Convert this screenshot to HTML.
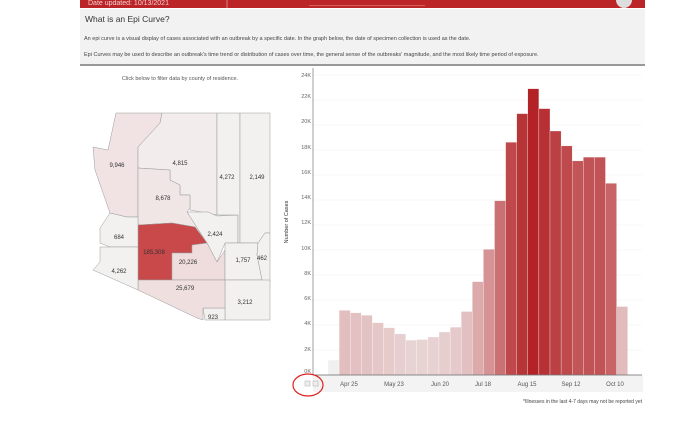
<!DOCTYPE html>
<html><head><meta charset="utf-8"><style>
html,body{margin:0;padding:0;background:#fff;width:700px;height:441px;overflow:hidden}
svg{display:block;font-family:"Liberation Sans",sans-serif}
</style></head><body>
<svg width="700" height="441" viewBox="0 0 700 441" xmlns="http://www.w3.org/2000/svg">
<rect x="80" y="0" width="565" height="8" fill="#bb2528"/>
<text x="88" y="5" font-size="7" fill="#f3d0d0">Date updated: 10/13/2021</text>
<line x1="227" y1="0" x2="227" y2="8" stroke="#f0c0c0" stroke-width="0.6"/>
<line x1="309" y1="5.5" x2="425" y2="5.5" stroke="#e07070" stroke-width="0.8"/>
<circle cx="624" cy="0" r="8" fill="#ddd"/>
<rect x="80" y="9" width="565" height="55" fill="#f2f2f2"/>
<rect x="80" y="64" width="565" height="2" fill="#999"/>
<text x="85" y="22" font-size="8.5" fill="#333">What is an Epi Curve?</text>
<text x="84" y="40" font-size="5.5" fill="#444">An epi curve is a visual display of cases associated with an outbreak by a specific date.  In  the graph below, the date of specimen collection is used as the date.</text>
<text x="84" y="56" font-size="5.5" fill="#444">Epi Curves may be used to describe an outbreak's time trend or distribution of cases over time, the general sense of the outbreaks' magnitude, and the most likely time period of exposure.</text>
<text x="180" y="80" font-size="5.5" fill="#555" text-anchor="middle">Click below to filter data by county of residence.</text>
<g stroke="#999" stroke-width="0.5">
<polygon points="93,147 108,150 116,113 162,113 160,123 138,147 138,217 127,217 110,213 95,170" fill="#f1e3e3"/>
<polygon points="138,147 160,123 162,113 217,113 217,215 190,210 190,195 180,195 180,185 170,180 170,170 138,168" fill="#f3ecec"/>
<polygon points="138,168 170,170 170,180 180,185 180,195 190,195 190,208 187,212 207,243 195,227 172,223 138,225" fill="#f1e6e6"/>
<polygon points="187,212 208,212 217,216 238,215 238,243 225,243 217,262 207,243" fill="#f3f0f0"/>
<polygon points="138,225 172,223 195,227 207,243 192,245 192,253 172,253 172,280 138,280" fill="#c9484a"/>
<polygon points="192,245 207,243 217,262 225,250 225,280 172,280 172,253 192,253" fill="#efdcdc"/>
<polygon points="217,113 240,113 240,243 238,243 238,215 217,215" fill="#f3f0f0"/>
<polygon points="240,113 270,113 270,233 265,233 258,243 240,243" fill="#f3f0f0"/>
<polygon points="225,243 258,243 257,255 262,280 225,280" fill="#f3f0f0"/>
<polygon points="258,243 265,233 270,233 270,282 262,280 257,255" fill="#f3f0f0"/>
<polygon points="225,280 270,280 270,320 225,320 225,308" fill="#f3f0f0"/>
<polygon points="203,308 225,308 225,320 205,320" fill="#f3f0f0"/>
<polygon points="138,280 225,280 225,308 203,308 203,320 197,318 138,290" fill="#efdfdf"/>
<polygon points="110,213 127,217 138,217 138,247 110,247 100,243 100,228" fill="#f3f0f0"/>
<polygon points="100,247 138,247 138,290 93,270 100,262" fill="#f3f0f0"/>
</g>
<g font-size="6" fill="#333" text-anchor="middle">
<text x="117" y="167">9,946</text><text x="180" y="165">4,815</text><text x="163" y="200">8,678</text>
<text x="227" y="179">4,272</text><text x="257" y="179">2,149</text><text x="119" y="239">684</text>
<text x="215" y="236">2,424</text><text x="154" y="254">185,308</text><text x="188" y="264">20,226</text>
<text x="243" y="262">1,757</text><text x="262" y="260">462</text><text x="119" y="273">4,262</text>
<text x="185" y="290">25,679</text><text x="245" y="304">3,212</text><text x="213" y="319">923</text>
</g>
<g stroke="#f0f0f0" stroke-width="0.6">
<line x1="313" y1="75" x2="642" y2="75"/><line x1="313" y1="100" x2="642" y2="100"/><line x1="313" y1="125" x2="642" y2="125"/><line x1="313" y1="150" x2="642" y2="150"/><line x1="313" y1="175" x2="642" y2="175"/><line x1="313" y1="200" x2="642" y2="200"/><line x1="313" y1="225" x2="642" y2="225"/><line x1="313" y1="250" x2="642" y2="250"/><line x1="313" y1="275" x2="642" y2="275"/><line x1="313" y1="300" x2="642" y2="300"/><line x1="313" y1="325" x2="642" y2="325"/><line x1="313" y1="350" x2="642" y2="350"/>
</g>
<g font-size="5.5" fill="#666" text-anchor="end">
<text x="311" y="77">24K</text><text x="311" y="98">22K</text><text x="311" y="123">20K</text><text x="311" y="149">18K</text><text x="311" y="174">16K</text><text x="311" y="199">14K</text><text x="311" y="224">12K</text><text x="311" y="250">10K</text><text x="311" y="275">8K</text><text x="311" y="300">6K</text><text x="311" y="325">4K</text><text x="311" y="351">2K</text><text x="311" y="373">0K</text>
</g>
<text transform="translate(288,222) rotate(-90)" font-size="5.5" fill="#333" text-anchor="middle">Number of Cases</text>
<g stroke="#fff" stroke-width="0.3">
<rect x="328" y="360.1" width="11.1" height="14.9" fill="rgb(240,240,240)"/>
<rect x="339.1" y="310.3" width="11.1" height="64.7" fill="rgb(226,190,191)"/>
<rect x="350.2" y="312.8" width="11.1" height="62.2" fill="rgb(227,192,193)"/>
<rect x="361.3" y="315.2" width="11.1" height="59.8" fill="rgb(227,194,195)"/>
<rect x="372.4" y="322.7" width="11.1" height="52.3" fill="rgb(229,199,200)"/>
<rect x="383.5" y="327.7" width="11.1" height="47.3" fill="rgb(230,203,203)"/>
<rect x="394.6" y="333.9" width="11.1" height="41.1" fill="rgb(231,207,208)"/>
<rect x="405.7" y="340.1" width="11.1" height="34.9" fill="rgb(232,211,212)"/>
<rect x="416.8" y="339.5" width="11.1" height="35.5" fill="rgb(232,211,211)"/>
<rect x="427.9" y="337.0" width="11.1" height="38.0" fill="rgb(232,209,210)"/>
<rect x="439" y="332.0" width="11.1" height="43.0" fill="rgb(231,206,206)"/>
<rect x="450.1" y="327.1" width="11.1" height="47.9" fill="rgb(230,202,203)"/>
<rect x="461.2" y="311.5" width="11.1" height="63.5" fill="rgb(226,191,192)"/>
<rect x="472.3" y="281.6" width="11.1" height="93.4" fill="rgb(220,170,171)"/>
<rect x="483.4" y="249.3" width="11.1" height="125.7" fill="rgb(213,147,149)"/>
<rect x="494.5" y="200.7" width="11.1" height="174.3" fill="rgb(202,113,115)"/>
<rect x="505.6" y="142.2" width="11.1" height="232.8" fill="rgb(190,72,75)"/>
<rect x="516.7" y="113.6" width="11.1" height="261.4" fill="rgb(183,52,55)"/>
<rect x="527.8" y="88.7" width="11.1" height="286.3" fill="rgb(178,34,38)"/>
<rect x="538.9" y="108.6" width="11.1" height="266.4" fill="rgb(182,48,52)"/>
<rect x="550" y="131" width="11.1" height="244" fill="rgb(187,64,67)"/>
<rect x="561.1" y="145.9" width="11.1" height="229.1" fill="rgb(190,74,78)"/>
<rect x="572.2" y="160.9" width="11.1" height="214.1" fill="rgb(194,85,88)"/>
<rect x="583.3" y="157.1" width="11.1" height="217.9" fill="rgb(193,82,85)"/>
<rect x="594.4" y="157.1" width="11.1" height="217.9" fill="rgb(193,82,85)"/>
<rect x="605.5" y="183.3" width="11.1" height="191.7" fill="rgb(200,100,102)"/>
<rect x="616.6" y="306.5" width="11.1" height="68.5" fill="rgb(225,188,189)"/>
</g>
<line x1="313" y1="68" x2="313" y2="375" stroke="#888" stroke-width="0.8"/>
<rect x="313" y="375" width="330" height="17" fill="#f3f3f3"/>
<line x1="313" y1="375" x2="642" y2="375" stroke="#666" stroke-width="0.8"/>
<g font-size="6" fill="#555" text-anchor="middle">
<text x="349" y="386">Apr 25</text><text x="394" y="386">May 23</text><text x="440" y="386">Jun 20</text><text x="483" y="386">Jul 18</text><text x="527" y="386">Aug 15</text><text x="571" y="386">Sep 12</text><text x="615" y="386">Oct 10</text>
</g>
<rect x="305" y="381" width="5" height="5" fill="#eee" stroke="#aaa" stroke-width="0.5"/>
<rect x="313" y="381" width="5" height="5" fill="#eee" stroke="#aaa" stroke-width="0.5"/>
<ellipse cx="308" cy="385" rx="15" ry="11" fill="none" stroke="#e02020" stroke-width="1.2"/>
<text x="642" y="403" font-size="5" fill="#444" text-anchor="end">*Illnesses in the last 4-7 days may not be reported yet</text>
</svg>
</body></html>
